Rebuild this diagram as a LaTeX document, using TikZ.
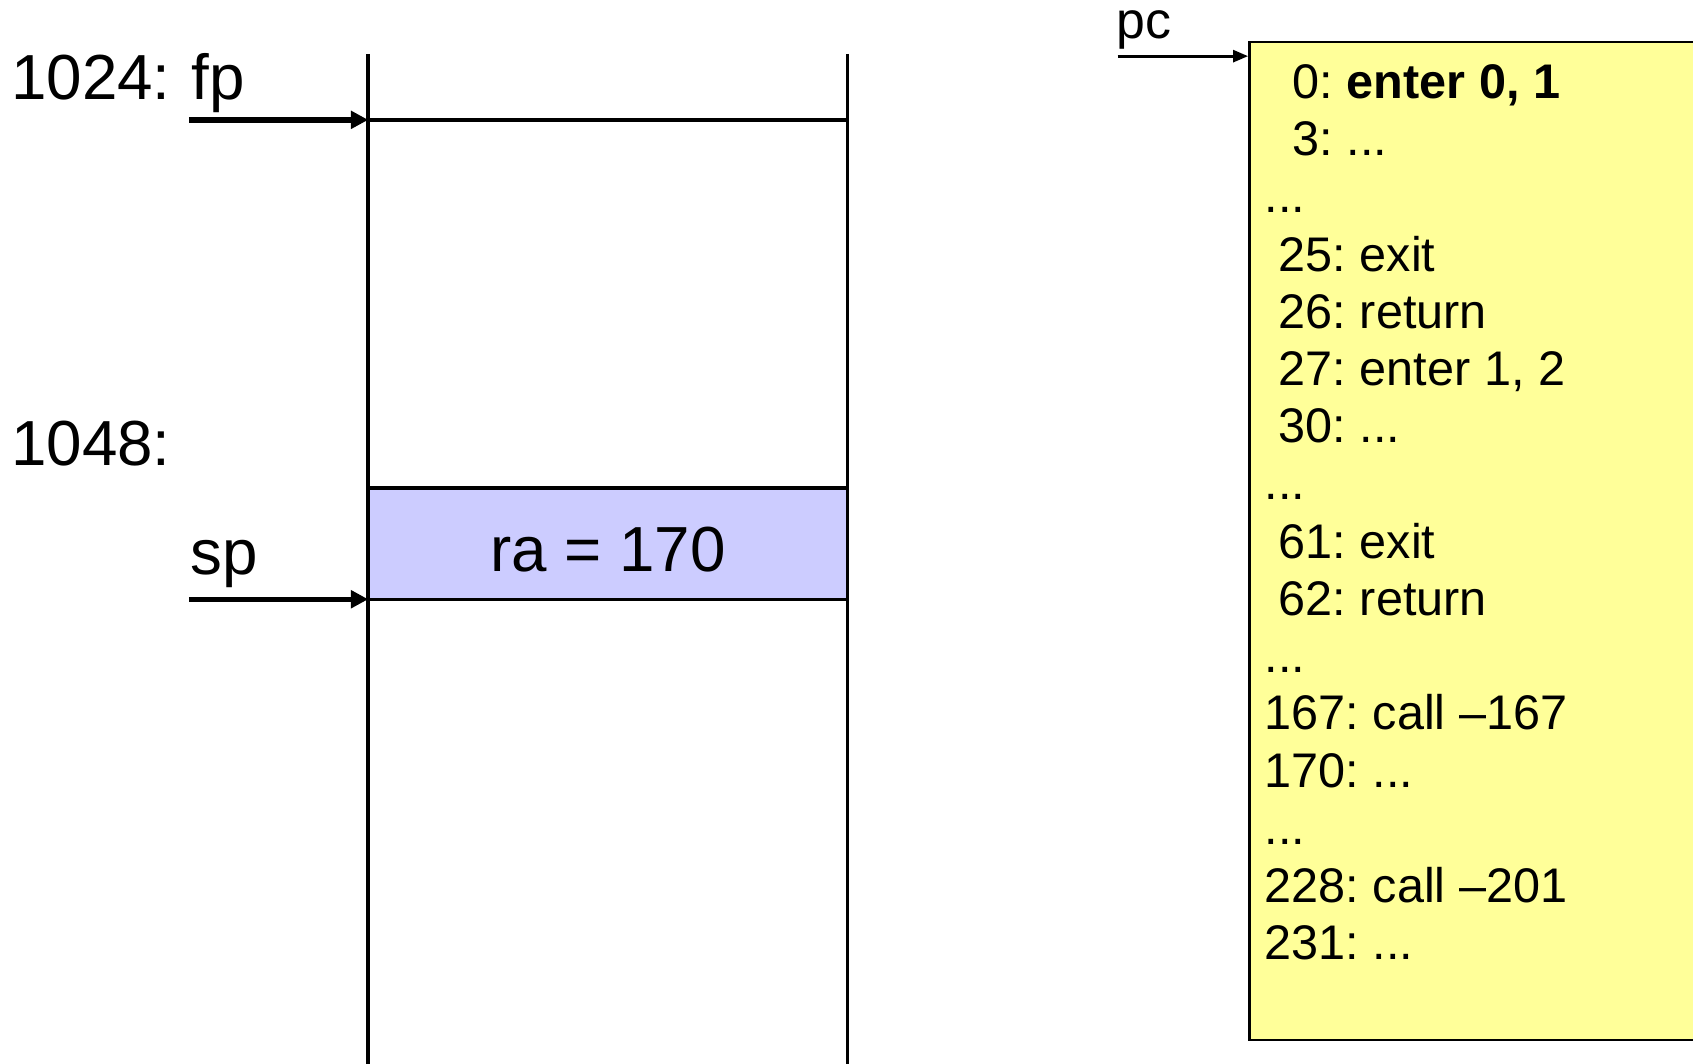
\documentclass[tikz,border=0pt]{standalone}
\usepackage{fontspec}
\setmainfont{Liberation Sans}
\usetikzlibrary{arrows.meta}
\definecolor{stackblue}{HTML}{CCCCFF}
\definecolor{codeyellow}{HTML}{FFFF99}
\frenchspacing
\tikzset{
  bigtxt/.style={anchor=base west, inner sep=0pt, font=\fontsize{29.5pt}{34pt}\selectfont},
  codetxt/.style={anchor=base west, inner sep=0pt, font=\fontsize{22.5pt}{26pt}\selectfont},
  colline/.style={line width=1.6pt},
  ptrarrow/.style={line width=2.5pt, -{Triangle[length=8pt,width=8pt]}},
  pcarrow/.style={line width=1.4pt, -{Triangle[length=7pt,width=5.5pt]}},
}
\begin{document}
\begin{tikzpicture}[x=0.5pt,y=-0.5pt]
\clip (0,0) rectangle (1568,985);
\fill[white] (0,0) rectangle (1568,985);
% stack column
\coordinate (colTL) at (341,50);
\coordinate (colBL) at (341,990);
\coordinate (colTR) at (785,50);
\coordinate (colBR) at (785,990);
\draw[colline] (colTL) -- (colBL);
\draw[colline] (colTR) -- (colBR);
\coordinate (fpE) at (341,111);
\coordinate (fpR) at (785,111);
\draw[colline] (fpE) -- (fpR);
\node[draw, colline, fill=stackblue, minimum width=222pt, minimum height=51.5pt,
      inner sep=0pt, text height=25.5pt, text depth=0pt,
      font=\fontsize{29.5pt}{34pt}\selectfont] (ra) at (563,503.5) {ra = 170};
% labels
\node[bigtxt] (a1024) at (10,92) {1024:};
\node[bigtxt] (fp) at (177,92) {fp};
\node[bigtxt] (a1048) at (10,431) {1048:};
\node[bigtxt] (sp) at (176,532) {sp};
\coordinate (fpS) at (175,111);
\draw[ptrarrow] (fpS) -- (fpE);
\coordinate (spS) at (175,555);
\coordinate (spE) at (341,555);
\draw[ptrarrow] (spS) -- (spE);
% program
\node[draw, line width=1.1pt, fill=codeyellow, anchor=north west, minimum width=217pt,
      minimum height=462pt, inner sep=0pt] (prog) at (1156,38) {};
\node[codetxt, font=\fontsize{24pt}{28pt}\selectfont] (pc) at (1034,36) {pc};
\coordinate (pcS) at (1035,52);
\coordinate (pcE) at (1156,52);
\draw[pcarrow] (pcS) -- (pcE);
\foreach \n/\x/\y/\t in {
  l1/1197/91/{0: \textbf{enter 0, 1}},
  l2/1197/144/{3: ...},
  l3/1171/197/{...},
  l4/1184/251/{25: exit},
  l5/1184/304/{26: return},
  l6/1184/357/{27: enter 1, 2},
  l7/1184/410/{30: ...},
  l8/1171/463/{...},
  l9/1184/517/{61: exit},
  l10/1184/570/{62: return},
  l11/1171/623/{...},
  l12/1171/676/{167: call –167},
  l13/1171/729/{170: ...},
  l14/1171/782/{...},
  l15/1171/836/{228: call –201},
  l16/1171/889/{231: ...}}
  \node[codetxt] (\n) at (\x,\y) {\t};
\end{tikzpicture}
\end{document}
